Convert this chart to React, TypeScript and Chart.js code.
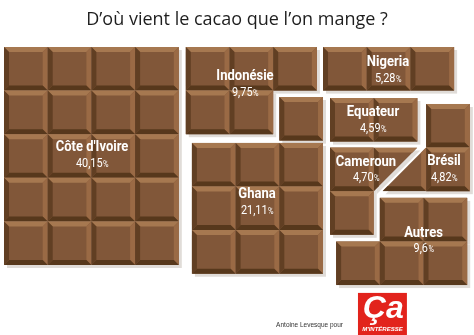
import React, { useEffect, useRef } from "react";
import { Chart, registerables } from "chart.js";

Chart.register(...registerables);

// ---- data ----
const TITLE = "D’où vient le cacao que l’on mange ?";
const CREDIT = "Antoine Levesque pour";
const countries = ["Côte d'Ivoire", "Indonésie", "Nigeria", "Equateur", "Cameroun", "Brésil", "Ghana", "Autres"];
const shares = [40.15, 9.75, 5.28, 4.59, 4.7, 4.82, 21.11, 9.6];
const shareDecimals = [2, 2, 2, 2, 2, 2, 2, 1];

// ---- layout (in chocolate-square units) ----
// full squares of each bar: [col, row, cols, rows]
const barBlocks: number[][][] = [
  [[0, 0, 4, 5]],
  [[4.16, 0, 3, 1], [4.16, 1, 2, 1]],
  [[7.3, 0, 3, 1]],
  [[7.46, 1.17, 2, 1]],
  [[7.46, 2.307, 1, 2]],
  [[9.66, 1.307, 1, 2]],
  [[4.3, 2.2, 3, 3], [6.3, 1.147, 1, 1]],
  [[8.6, 3.46, 2, 1], [7.6, 4.46, 3, 1]],
];
// broken half squares: [col, row, half] half 0 = upper-left triangle, 1 = lower-right triangle
const halfSquares: number[][] = [
  [8.46, 2.307, 0],
  [8.66, 2.307, 1],
];
const labelX = [2.014, 5.515, 8.787, 8.444, 8.284, 10.069, 5.79, 9.6];
const labelY = [2.477, 0.849, 0.528, 1.674, 2.81, 2.798, 3.555, 4.438];

const X_MIN = -0.0915;
const X_MAX = X_MIN + 474 / 43.7;
const Y_MIN = -0.1606;
const Y_MAX = Y_MIN + 295 / 43.6;

const FACE = "#815739";
const TOP = "#a67850";
const RIGHT = "#9a6a45";
const LEFT = "#613f23";
const BOTTOM = "#57381c";
const SHADOW = "#e0dcd8";

function poly(ctx: CanvasRenderingContext2D, pts: number[][], color: string) {
  ctx.beginPath();
  ctx.moveTo(pts[0][0], pts[0][1]);
  for (let i = 1; i < pts.length; i++) ctx.lineTo(pts[i][0], pts[i][1]);
  ctx.closePath();
  ctx.fillStyle = color;
  ctx.fill();
}

function drawSquare(ctx: CanvasRenderingContext2D, x: number, y: number, w: number, h: number) {
  const b = 5;
  ctx.fillStyle = FACE;
  ctx.fillRect(x, y, w, h);
  poly(ctx, [[x, y], [x + w, y], [x + w - b, y + b], [x + b, y + b]], TOP);
  poly(ctx, [[x + w, y], [x + w, y + h], [x + w - b, y + h - b], [x + w - b, y + b]], RIGHT);
  poly(ctx, [[x, y + h], [x + w, y + h], [x + w - b, y + h - b], [x + b, y + h - b]], BOTTOM);
  poly(ctx, [[x, y], [x, y + h], [x + b, y + h - b], [x + b, y + b]], LEFT);
}

const chocolatePlugin = {
  id: "chocolate",
  beforeDraw(chart: any) {
    const ctx = chart.ctx;
    ctx.save();
    ctx.fillStyle = "#ffffff";
    ctx.fillRect(0, 0, chart.width, chart.height);
    ctx.restore();
  },
  beforeDatasetsDraw(chart: any) {
    const ctx: CanvasRenderingContext2D = chart.ctx;
    const sx = chart.scales.x;
    const sy = chart.scales.y;
    const X = (v: number) => sx.getPixelForValue(v);
    const Y = (v: number) => sy.getPixelForValue(v);
    const sq = (c: number, r: number) => ({ x: X(c), y: Y(r), w: X(c + 1) - X(c), h: Y(r + 1) - Y(r) });
    const halfPath = (s: any, half: number, dx: number) => {
      ctx.beginPath();
      if (half === 0) {
        ctx.moveTo(s.x + dx, s.y + dx);
        ctx.lineTo(s.x + s.w + dx, s.y + dx);
        ctx.lineTo(s.x + dx, s.y + s.h + dx);
      } else {
        ctx.moveTo(s.x + s.w + dx, s.y + dx);
        ctx.lineTo(s.x + s.w + dx, s.y + s.h + dx);
        ctx.lineTo(s.x + dx, s.y + s.h + dx);
      }
      ctx.closePath();
    };
    ctx.save();
    const off = 3;
    // shadows
    ctx.fillStyle = SHADOW;
    barBlocks.forEach((blocks) =>
      blocks.forEach(([c, r, nc, nr]) => {
        const x0 = X(c), y0 = Y(r), x1 = X(c + nc), y1 = Y(r + nr);
        ctx.fillRect(x0 + off, y0 + off, x1 - x0, y1 - y0);
      })
    );
    halfSquares.forEach(([c, r, half]) => {
      const s = sq(c, r);
      halfPath(s, half, off);
      ctx.fillStyle = SHADOW;
      ctx.fill();
    });
    // squares
    barBlocks.forEach((blocks) =>
      blocks.forEach(([c, r, nc, nr]) => {
        for (let i = 0; i < nc; i++)
          for (let j = 0; j < nr; j++) {
            const s = sq(c + i, r + j);
            drawSquare(ctx, s.x, s.y, s.w, s.h);
          }
      })
    );
    halfSquares.forEach(([c, r, half]) => {
      const s = sq(c, r);
      ctx.save();
      halfPath(s, half, 0);
      ctx.clip();
      drawSquare(ctx, s.x, s.y, s.w, s.h);
      ctx.restore();
    });
    ctx.restore();
  },
  afterDatasetsDraw(chart: any) {
    const ctx: CanvasRenderingContext2D = chart.ctx;
    const meta = chart.getDatasetMeta(0);
    const cond = 0.84;
    ctx.save();
    ctx.fillStyle = "#ffffff";
    ctx.textBaseline = "middle";
    ctx.textAlign = "left";
    meta.data.forEach((pt: any, i: number) => {
      const cx = pt.x, cy = pt.y;
      // name
      ctx.font = "bold 15.5px Roboto";
      const nw = ctx.measureText(countries[i]).width * cond;
      ctx.save();
      ctx.translate(cx - nw / 2, cy - 7.5);
      ctx.scale(cond, 1);
      ctx.fillText(countries[i], 0, 0);
      ctx.restore();
      // value
      const num = shares[i].toFixed(shareDecimals[i]).replace(".", ",");
      ctx.font = "13px Roboto";
      const w1 = ctx.measureText(num).width;
      ctx.font = "9px Roboto";
      const w2 = ctx.measureText("%").width;
      const tw = (w1 + w2) * cond;
      ctx.save();
      ctx.translate(cx - tw / 2, cy + 8.5);
      ctx.scale(cond, 1);
      ctx.font = "13px Roboto";
      ctx.fillText(num, 0, 0);
      ctx.font = "9px Roboto";
      ctx.fillText("%", w1 + 0.5, 0.8);
      ctx.restore();
    });
    ctx.restore();

    // credit + logo
    const sx = chart.scales.x;
    const sy = chart.scales.y;
    ctx.save();
    ctx.fillStyle = "#333333";
    ctx.font = "6.5px 'Liberation Sans'";
    ctx.textAlign = "right";
    ctx.textBaseline = "middle";
    ctx.fillText(CREDIT, sx.getPixelForValue(7.757), sy.getPixelForValue(6.376));
    const lx0 = sx.getPixelForValue(8.1), lx1 = sx.getPixelForValue(9.22);
    const ly0 = sy.getPixelForValue(5.64);
    ctx.fillStyle = "#e2231c";
    ctx.fillRect(lx0, ly0, lx1 - lx0, chart.height - ly0);
    ctx.fillStyle = "#ffffff";
    ctx.textAlign = "center";
    ctx.font = "italic bold 32px 'Liberation Sans'";
    ctx.fillText("Ça", (lx0 + lx1) / 2 + 1, ly0 + 16);
    ctx.font = "italic bold 6px 'Liberation Sans'";
    ctx.fillText("M'INTÉRESSE", (lx0 + lx1) / 2, ly0 + 36);
    ctx.restore();
  },
};

export default function App() {
  const ref = useRef<HTMLCanvasElement>(null);
  useEffect(() => {
    if (!ref.current) return;
    const chart = new Chart(ref.current, {
      type: "scatter",
      data: {
        datasets: [
          {
            label: "Part de la production",
            data: labelX.map((x, i) => ({ x, y: labelY[i] })),
            pointRadius: 0,
            pointHoverRadius: 0,
          },
        ],
      },
      options: {
        responsive: false,
        animation: false,
        events: [],
        layout: { padding: 0 },
        scales: {
          x: { type: "linear", display: false, min: X_MIN, max: X_MAX },
          y: { type: "linear", display: false, min: Y_MIN, max: Y_MAX, reverse: true },
        },
        plugins: {
          legend: { display: false },
          tooltip: { enabled: false },
          title: {
            display: true,
            text: TITLE,
            color: "#1e1e1e",
            font: { family: "'Open Sans'", size: 18, weight: "normal", lineHeight: 1.2 },
            padding: { top: 9, bottom: 9.4 },
          },
        },
      },
      plugins: [chocolatePlugin],
    });
    return () => chart.destroy();
  }, []);
  return (
    <div style={{ position: "fixed", left: 0, top: 0, width: 474, height: 335 }}>
      <canvas ref={ref} width={474} height={335} style={{ display: "block" }} />
    </div>
  );
}
